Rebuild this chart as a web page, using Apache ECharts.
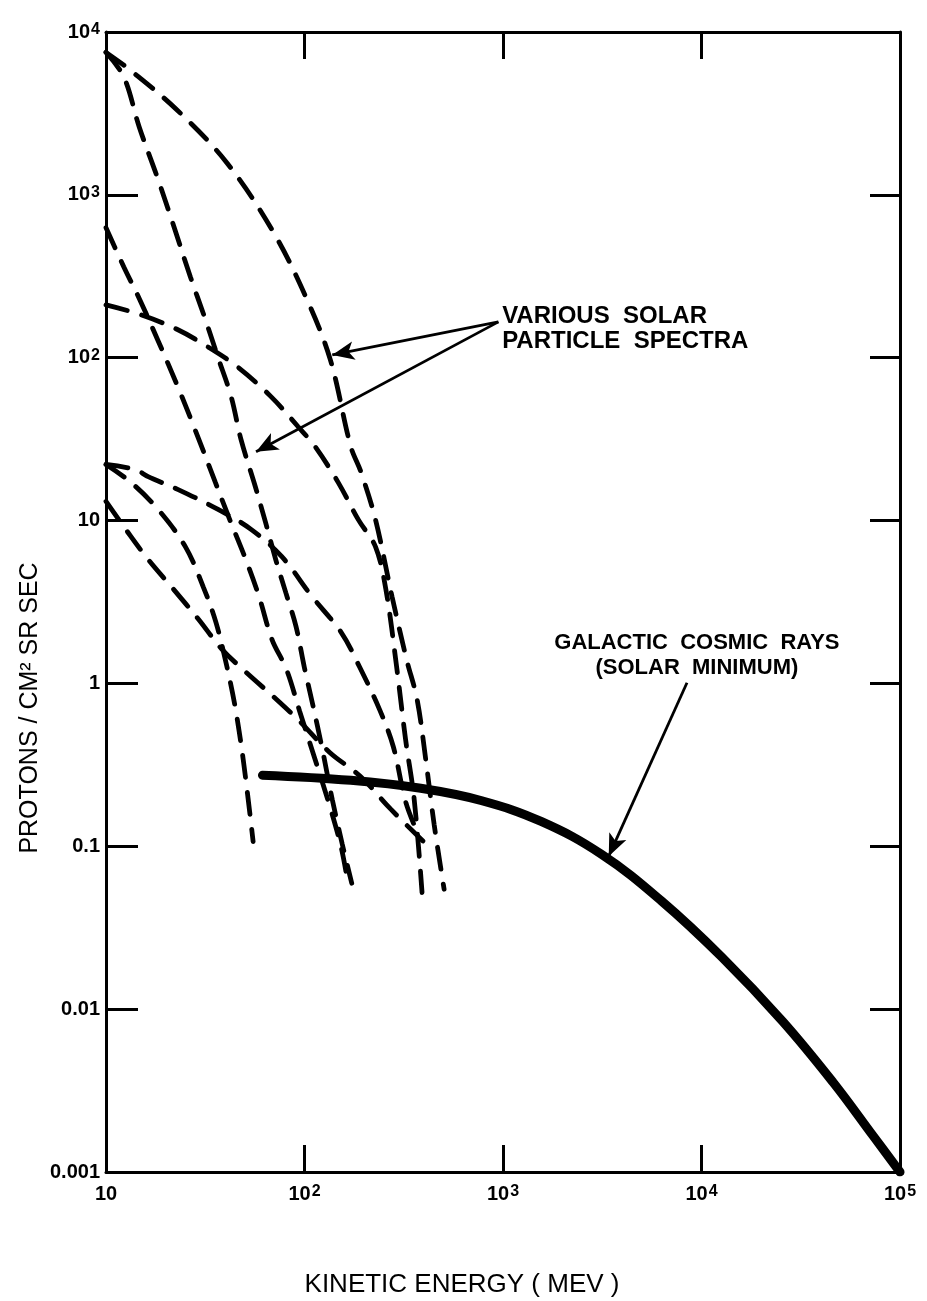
<!DOCTYPE html>
<html>
<head>
<meta charset="utf-8">
<title>Solar particle spectra and galactic cosmic rays</title>
<script src="https://cdn.jsdelivr.net/npm/echarts@6/dist/echarts.min.js"></script>
<style>
html, body { margin: 0; padding: 0; background: #fff; }
#chart { width: 927px; height: 1301px; }
</style>
</head>
<body>
<div id="chart"></div>
<script>
// tick values and their printed labels ("^" marks a superscript)
const xTicks = [10, 100, 1000, 10000, 100000];
const xTickText = ['10', '10^2', '10^3', '10^4', '10^5'];
const yTicks = [0.001, 0.01, 0.1, 1, 10, 100, 1000, 10000];
const yTickText = ['0.001', '0.01', '0.1', '1', '10', '10^2', '10^3', '10^4'];

// solar particle spectra, [energy MeV, flux]
const solarA = [[10, 7500], [13.2, 5850], [22.8, 3320], [40.7, 1570], [70, 585], [103, 227], [135, 97], [171, 28.5], [193, 19.7], [228, 10.1], [276, 3.42], [327, 1.4], [369, 0.8], [408, 0.342], [450, 0.136], [505, 0.0545]];
const solarB = [[10, 211], [14.9, 184], [22.9, 149], [32.4, 117], [45.9, 88], [67.8, 57.7], [92.7, 37.8], [113, 28.5], [148, 17.1], [187, 10.1], [228, 6.9], [257, 3.78], [291, 1.27], [323, 0.453], [357, 0.194], [391, 0.052]];
const solarC = [[10, 7500], [12.3, 5300], [14.7, 2610], [18.1, 1290], [22, 637], [26.6, 314], [31.3, 179], [36.6, 101], [42.7, 57.7], [47.9, 31.4], [56.5, 16.2], [63.7, 9.7], [71.6, 5.77], [80.5, 3.61], [90.6, 2.24], [99.9, 1.25], [110, 0.743], [123, 0.394], [138, 0.194], [155, 0.103], [173, 0.0593]];
const solarD = [[10, 628], [12.3, 361], [14.8, 227], [18.2, 129], [23, 66.4], [28.1, 36.1], [35.6, 17.1], [41.4, 10.6], [50.6, 5.77], [59, 3.42], [68.6, 1.86], [81.1, 1.22], [94.6, 0.673], [113, 0.342], [135.5, 0.169], [153, 0.0986], [165, 0.061]];
const solarE = [[10, 22.1], [14, 20.6], [16.3, 18.6], [23.1, 15.5], [36.7, 11.7], [54, 8.8], [76.9, 6.0], [109, 3.42], [153, 2.06], [189, 1.27], [239, 0.69], [280, 0.41], [324, 0.186], [373, 0.119]];
const solarF = [[10, 22.1], [13.4, 17.1], [18.3, 11.7], [25.1, 6.92], [31, 3.88], [35.8, 2.37], [40.4, 1.31], [44.5, 0.743], [49.1, 0.342], [55.1, 0.107]];
const solarG = [[10, 13.1], [12.6, 8.8], [16.3, 5.77], [21.9, 3.78], [29.3, 2.47], [38.4, 1.62], [50.8, 1.17], [72.1, 0.8], [94.6, 0.585], [134, 0.377], [191, 0.269], [272, 0.169], [410, 0.103]];

// galactic cosmic rays at solar minimum
const galactic = [[61.4, 0.273], [171, 0.254], [385, 0.227], [774, 0.191], [1556, 0.142], [3133, 0.0893], [6310, 0.046], [12700, 0.0208], [25600, 0.00843], [45900, 0.00357], [73400, 0.00166], [100000, 0.001]];

// annotation texts and their arrows, in data units
const solarNote = { text: 'VARIOUS  SOLAR\nPARTICLE  SPECTRA', at: [990, 150] };
const galacticNote = { text: 'GALACTIC  COSMIC  RAYS\n(SOLAR  MINIMUM)', at: [9480, 1.49] };
const arrows = [
  { from: [948, 166], to: [138, 104] },
  { from: [948, 166], to: [57, 26.5] },
  { from: [8450, 1.01], to: [3410, 0.087] }
];

const fontFamily = '"Liberation Sans", Arial, sans-serif';

function tickFormatter(values, texts) {
  return function (v) {
    const i = values.findIndex(t => Math.abs(Math.log10(t) - Math.log10(v)) < 1e-6);
    if (i < 0) return '';
    const parts = texts[i].split('^');
    return parts.length > 1 ? '{b|' + parts[0] + '}{s|' + parts[1] + '}' : '{b|' + parts[0] + '}';
  };
}

const richLabel = {
  b: { fontSize: 20, fontWeight: 'bold', fontFamily: fontFamily, color: '#000', lineHeight: 20, verticalAlign: 'bottom' },
  s: { fontSize: 16, fontWeight: 'bold', fontFamily: fontFamily, color: '#000', lineHeight: 16, verticalAlign: 'top', padding: [0, 0, 15, 1] }
};

const axisLine = { show: true, onZero: false, lineStyle: { color: '#000', width: 3 } };

function makeAxis(extra) {
  return Object.assign({
    type: 'log',
    logBase: 10,
    axisLine: axisLine,
    splitLine: { show: false },
    minorTick: { show: false },
    minorSplitLine: { show: false }
  }, extra);
}

const chart = echarts.init(document.getElementById('chart'));

const dash = { color: '#000', width: 4.8, type: [22, 15], cap: 'round' };
const solarSeries = [solarA, solarB, solarC, solarD, solarE, solarF, solarG].map(d => ({
  type: 'line',
  data: d,
  smooth: 0.35,
  symbol: 'none',
  lineStyle: dash,
  silent: true,
  animation: false,
  z: 3
}));

chart.setOption({
  backgroundColor: '#fff',
  animation: false,
  grid: { left: 106, right: 27, top: 32, bottom: 129, outerBoundsMode: 'none' },
  xAxis: [
    makeAxis({
      min: 10, max: 100000, position: 'bottom',
      axisTick: { inside: true, length: 27, lineStyle: { color: '#000', width: 3 } },
      axisLabel: { margin: 12, formatter: tickFormatter(xTicks, xTickText), rich: richLabel, showMinLabel: true, showMaxLabel: true, hideOverlap: false }
    }),
    makeAxis({
      min: 10, max: 100000, position: 'top',
      axisTick: { inside: true, length: 27, lineStyle: { color: '#000', width: 3 } },
      axisLabel: { show: false }
    })
  ],
  yAxis: [
    makeAxis({
      min: 0.001, max: 10000, position: 'left',
      axisTick: { inside: true, length: 32, lineStyle: { color: '#000', width: 3 } },
      axisLabel: { margin: 6, formatter: tickFormatter(yTicks, yTickText), rich: richLabel, showMinLabel: true, showMaxLabel: true, hideOverlap: false }
    }),
    makeAxis({
      min: 0.001, max: 10000, position: 'right',
      axisTick: { inside: true, length: 30, lineStyle: { color: '#000', width: 3 } },
      axisLabel: { show: false }
    })
  ],
  series: solarSeries.concat([
    {
      type: 'line',
      data: galactic,
      smooth: 0.4,
      symbol: 'none',
      lineStyle: { color: '#000', width: 9, cap: 'round' },
      silent: true,
      z: 4,
      markLine: {
        silent: true,
        animation: false,
        symbol: ['none', 'arrow'],
        label: { show: false },
        lineStyle: { color: '#000', width: 2.8, type: 'solid' },
        emphasis: { disabled: true },
        data: arrows.map(a => [
          { coord: a.from, symbol: 'none' },
          { coord: a.to, symbol: 'arrow', symbolSize: [14, 22] }
        ])
      }
    },
    {
      type: 'scatter',
      data: [solarNote.at],
      symbolSize: 0,
      silent: true,
      itemStyle: { opacity: 1 },
      label: {
        show: true, position: 'right', distance: 0,
        formatter: solarNote.text,
        color: '#000', opacity: 1, fontSize: 24, fontWeight: 'bold', fontFamily: fontFamily,
        lineHeight: 25, align: 'left'
      }
    },
    {
      type: 'scatter',
      data: [galacticNote.at],
      symbolSize: 0,
      silent: true,
      itemStyle: { opacity: 1 },
      label: {
        show: true, position: 'inside',
        formatter: galacticNote.text,
        color: '#000', opacity: 1, fontSize: 22, fontWeight: 'bold', fontFamily: fontFamily,
        lineHeight: 25, align: 'center'
      }
    }
  ]),
  graphic: [
    {
      type: 'text', x: 30, y: 708, rotation: Math.PI / 2,
      style: { text: 'PROTONS / CM² SR SEC', font: '25px ' + fontFamily, fill: '#000', align: 'center', verticalAlign: 'middle' }
    },
    {
      type: 'text', x: 462, y: 1285,
      style: { text: 'KINETIC ENERGY ( MEV )', font: '26px ' + fontFamily, fill: '#000', align: 'center', verticalAlign: 'middle' }
    }
  ]
});
</script>
</body>
</html>
